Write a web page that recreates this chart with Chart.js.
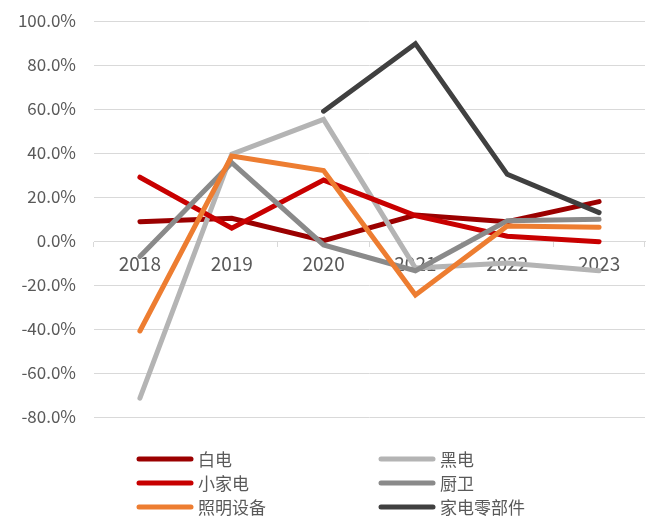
<!DOCTYPE html>
<html>
<head>
<meta charset="utf-8">
<script src="https://cdn.jsdelivr.net/npm/chart.js@4/dist/chart.umd.min.js"></script>
<style>
  html, body { margin: 0; padding: 0; background: #fff; }
  #wrap { width: 653px; height: 519px; position: relative; }
</style>
</head>
<body>
<div id="wrap"><canvas id="chart"></canvas></div>
<script>
const years = ["2018", "2019", "2020", "2021", "2022", "2023"];
const seriesNames = ["白电", "黑电", "小家电", "厨卫", "照明设备", "家电零部件"];
const baiDian = [8.8, 10.3, 0.2, 11.8, 8.8, 17.9];
const heiDian = [-71.4, 39.5, 55.3, -12.3, -10.0, -13.5];
const xiaoJiaDian = [29.0, 5.8, 27.7, 11.5, 2.2, -0.3];
const chuWei = [-7.0, 35.6, -1.8, -13.5, 9.2, 9.9];
const zhaoMing = [-40.9, 38.6, 32.0, -24.5, 6.8, 6.2];
const lingBuJian = [null, null, 59.0, 89.7, 30.3, 12.9];
const yTicks = [-80, -60, -40, -20, 0, 20, 40, 60, 80, 100];

const colors = ["#9b0000", "#b4b4b4", "#c80000", "#8a8a8a", "#ed7d31", "#404040"];
const values = [baiDian, heiDian, xiaoJiaDian, chuWei, zhaoMing, lingBuJian];
const FONT = "'Noto Sans CJK SC', 'Noto Sans', sans-serif";
const TEXT_COLOR = "#595959";
const GRID_COLOR = "#d9d9d9";

// legend drawn in two columns under the plot, row by row like the original
const gridLegend = {
    id: "gridLegend",
    afterDraw(chart) {
        const ctx = chart.ctx;
        const colX = [137, 379];
        const rowY = [459, 483, 507];
        ctx.save();
        ctx.font = "17px " + FONT;
        ctx.fillStyle = TEXT_COLOR;
        ctx.textBaseline = "middle";
        ctx.lineCap = "round";
        ctx.lineWidth = 5;
        chart.data.datasets.forEach((ds, i) => {
            const x = colX[i % 2];
            const y = rowY[Math.floor(i / 2)];
            ctx.strokeStyle = ds.borderColor;
            ctx.beginPath();
            ctx.moveTo(x + 2, y);
            ctx.lineTo(x + 54, y);
            ctx.stroke();
            ctx.fillText(ds.label, x + 61, y + 1);
        });
        ctx.restore();
    },
};

new Chart(document.getElementById("chart"), {
    type: "line",
    data: {
        labels: years,
        datasets: seriesNames.map((name, i) => ({
            label: name,
            data: values[i],
            borderColor: colors[i],
            backgroundColor: colors[i],
            borderWidth: 5,
            borderCapStyle: "round",
            borderJoinStyle: "miter",
            pointRadius: 0,
            tension: 0,
            spanGaps: false,
            order: seriesNames.length - i,
        })),
    },
    options: {
        responsive: true,
        maintainAspectRatio: false,
        animation: false,
        layout: {
            padding: { top: 21, right: 8, bottom: 102, left: 0 },
        },
        plugins: {
            legend: { display: false },
            tooltip: { enabled: false },
        },
        scales: {
            x: {
                position: { y: 0 },
                offset: true,
                grid: {
                    offset: true,
                    drawOnChartArea: false,
                    drawTicks: true,
                    tickLength: 5,
                    color: GRID_COLOR,
                },
                border: { color: GRID_COLOR, width: 1 },
                ticks: {
                    color: TEXT_COLOR,
                    font: { family: FONT, size: 19 },
                    padding: 6,
                    maxRotation: 0,
                },
                afterFit(scale) {
                    scale.height = 0;
                },
            },
            y: {
                min: -80,
                max: 100,
                afterBuildTicks(scale) {
                    scale.ticks = yTicks.map((v) => ({ value: v }));
                },
                grid: {
                    color: GRID_COLOR,
                    drawTicks: true,
                    tickLength: 18,
                    tickColor: "rgba(0,0,0,0)",
                },
                border: { display: false },
                ticks: {
                    color: TEXT_COLOR,
                    font: { family: FONT, size: 17 },
                    padding: 0,
                    callback: (v) => v.toFixed(1) + "%",
                },
                afterFit(scale) {
                    scale.width = 94;
                },
            },
        },
    },
    plugins: [gridLegend],
});
</script>
</body>
</html>
